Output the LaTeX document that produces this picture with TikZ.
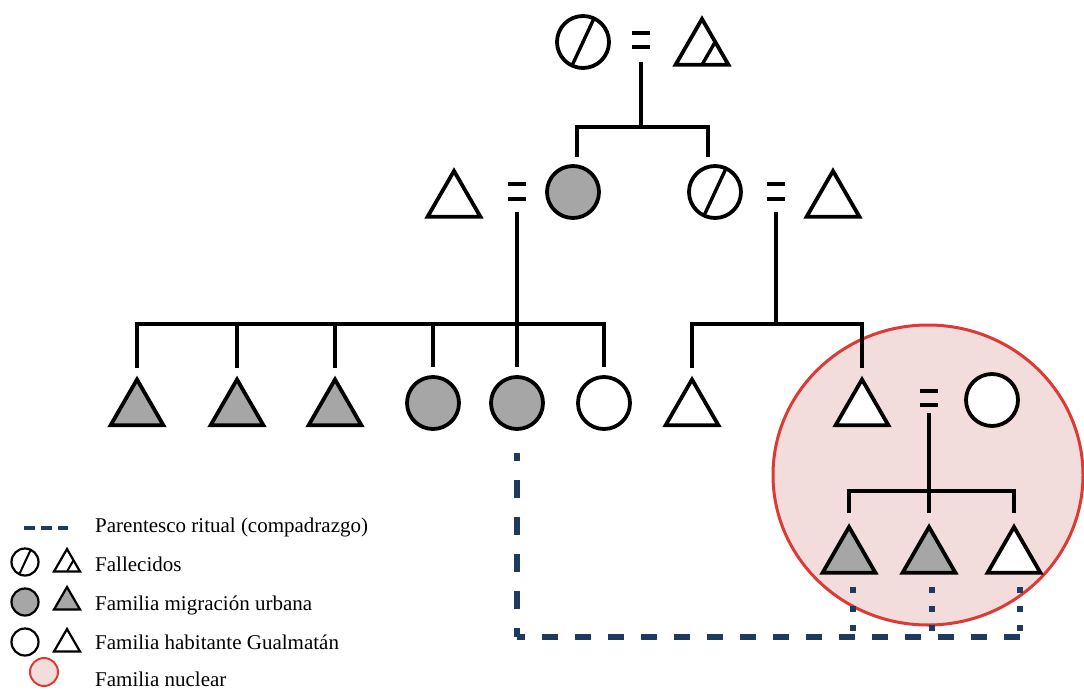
\documentclass[tikz,border=0pt]{standalone}
\usepackage{fontspec}
\setmainfont{Liberation Serif}
\usetikzlibrary{shapes.geometric,calc}
\definecolor{gris}{HTML}{A6A6A6}
\definecolor{rosa}{HTML}{F2DCDC}
\definecolor{rojo}{HTML}{DC3A35}
\definecolor{azul}{HTML}{1F3A5F}
\begin{document}
\begin{tikzpicture}[x=1pt,y=-1pt,
  kin/.style={line width=3.8pt},
  person/.style={draw=black, line width=3.8pt, inner sep=0pt, outer sep=0pt, fill=white},
  fem/.style={person, circle, minimum size=52pt},
  mal/.style={person, regular polygon, regular polygon sides=3, minimum size=61pt},
  mig/.style={fill=gris},
  eqsign/.style={line width=4.5pt},
  ritual/.style={draw=azul, line width=5.5pt},
  lperson/.style={draw=black, line width=2.2pt, inner sep=0pt, outer sep=0pt, fill=white},
  lfem/.style={lperson, circle, minimum size=27pt},
  lmal/.style={lperson, regular polygon, regular polygon sides=3, minimum size=30pt},
  leg/.style={font=\fontsize{21}{25}\selectfont, inner sep=0pt, anchor=base west},
  nucfam/.style={ellipse, draw=rojo, fill=rosa, line width=3pt, inner sep=0pt, outer sep=0pt}
]
\useasboundingbox (0,0) rectangle (1084,690);

% nuclear family
\node[nucfam, minimum width=310pt, minimum height=300pt] (nf) at (928,475) {};

% generation 1
\node[fem] (d1) at (583,42) {};
\draw[line width=3.4pt] (d1.245) -- (d1.65);
\coordinate (m1) at (641,40);
\node[mal] (h1) at (702,49.5) {};
\draw[line width=3.4pt] (h1.side 2) -- (h1.side 3);
\draw[eqsign] ([shift={(-9pt,7pt)}]m1) -- ++(18,0);
\draw[eqsign] ([shift={(-9pt,-7pt)}]m1) -- ++(18,0);
\coordinate (j1) at (641,127);

% generation 2
\node[mal] (h2a) at (454,201.5) {};
\coordinate (m2) at (517,191.5);
\node[fem, mig] (g2) at (573,192) {};
\node[fem] (d2) at (715,192) {};
\draw[line width=3.4pt] (d2.245) -- (d2.65);
\coordinate (m3) at (776,191.5);
\node[mal] (h2b) at (833,201.5) {};
\foreach \m in {m2,m3}{
  \draw[eqsign] ([shift={(-9pt,7.5pt)}]\m) -- ++(18,0);
  \draw[eqsign] ([shift={(-9pt,-7.5pt)}]\m) -- ++(18,0);
}
\draw[kin] ([yshift=-22pt]m1) -- (j1);
\draw[kin] ([xshift=4pt,yshift=9pt]g2.north) |- (j1) -| ([xshift=-7pt,yshift=9pt]d2.north);

% generation 3
\node[mal, mig] (t1) at (137,410) {};
\node[mal, mig] (t2) at (237,410) {};
\node[mal, mig] (t3) at (335,410) {};
\node[fem, mig] (c4) at (433,403) {};
\node[fem, mig] (c5) at (517,403) {};
\node[fem] (c6) at (604,403) {};
\node[mal] (t7) at (692,410) {};
\node[mal] (t8) at (862,410) {};
\coordinate (m4) at (929,398);
\node[fem] (c9) at (992,400) {};
\draw[eqsign] ([shift={(-9pt,7pt)}]m4) -- ++(18,0);
\draw[eqsign] ([shift={(-9pt,-7pt)}]m4) -- ++(18,0);

\coordinate (j2) at (517,324);
\coordinate (j3) at (776,324);
\draw[kin] ([yshift=-20.5pt]m2) -- (j2);
\draw[kin] ([yshift=-20.5pt]m3) -- (j3);
\draw[kin] ([yshift=12pt]t1.north) -- (t1.north |- j2) -- (c6.north |- j2) -- ([yshift=10pt]c6.north);
\draw[kin] (t2.north |- j2) -- ([yshift=12pt]t2.north);
\draw[kin] (t3.north |- j2) -- ([yshift=12pt]t3.north);
\draw[kin] (c4.north |- j2) -- ([yshift=10pt]c4.north);
\draw[kin] (j2) -- ([yshift=10pt]c5.north);
\draw[kin] ([yshift=12pt]t7.north) -- (t7.north |- j3) -- (t8.north |- j3) -- ([yshift=12pt]t8.north);

% generation 4
\node[mal, mig] (ch1) at (849,557.5) {};
\node[mal, mig] (ch2) at (929,557.5) {};
\node[mal] (ch3) at (1014,557.5) {};
\coordinate (j4) at (929,491);
\draw[kin] ([yshift=-15pt]m4) -- (j4);
\draw[kin] ([yshift=14pt]ch1.north) -- (ch1.north |- j4) -- (ch3.north |- j4) -- ([yshift=14pt]ch3.north);
\draw[kin] (j4) -- ([yshift=14pt]ch2.north);

% ritual kinship
\coordinate (rb) at (517,637);
\coordinate (re) at (1020,637);
\draw[ritual, dash pattern=on 18pt off 19pt, dash phase=9pt] (rb) -- ([yshift=-24pt]c5.south);
\draw[ritual, dash pattern=on 16pt off 17pt, dash phase=8pt] (rb) -- (re);
\draw[ritual, dash pattern=on 6pt off 13pt] ([shift={(4pt,-14pt)}]ch1.south) -- ([xshift=4pt]ch1.south |- rb);
\draw[ritual, dash pattern=on 6pt off 13pt] ([shift={(3pt,-14pt)}]ch2.south) -- ([xshift=3pt]ch2.south |- rb);
\draw[ritual, dash pattern=on 6pt off 13pt] ([yshift=-14pt]re |- ch3.south) -- ([yshift=2.75pt]re);

% legend
\coordinate (ls1) at (24,528);
\coordinate (ls2) at (68,528);
\draw[azul, line width=3.5pt, dash pattern=on 11pt off 6pt] (ls1) -- (ls2);
\node[leg] (tx1) at (95,532) {Parentesco ritual (compadrazgo)};

\node[lfem] (lc1) at (25,562) {};
\draw[line width=2pt] (lc1.245) -- (lc1.65);
\node[lmal] (lt1) at (67,564) {};
\draw[line width=2pt] (lt1.side 2) -- (lt1.side 3);
\node[leg] (tx2) at (95,571) {Fallecidos};

\node[lfem, mig] (lc2) at (25,602) {};
\node[lmal, mig] (lt2) at (67,602) {};
\node[leg] (tx3) at (95,610) {Familia migración urbana};

\node[lfem] (lc3) at (25,642) {};
\node[lmal] (lt3) at (67,644) {};
\node[leg] (tx4) at (95,649) {Familia habitante Gualmatán};

\node[circle, draw=rojo, fill=rosa, line width=2pt, minimum size=28pt, inner sep=0pt] (lc4) at (44,672) {};
\node[leg] (tx5) at (95,686) {Familia nuclear};
\end{tikzpicture}
\end{document}
